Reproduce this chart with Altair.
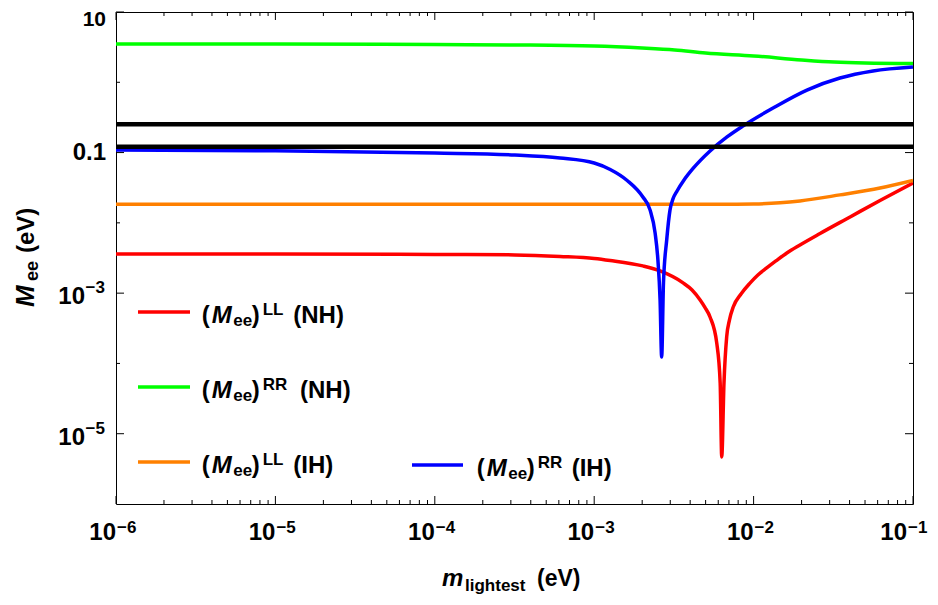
import altair as alt
import pandas as pd

W, H = 797, 492
FONT = "Liberation Sans"

# ---------------- data ----------------
red_x = [1e-6, 1e-5, 1e-4, 3.18e-4, 6.1e-4, 1e-3, 1.26e-3, 2.02e-3, 2.59e-3, 3.61e-3,
         4.11e-3, 4.62e-3, 4.95e-3, 5.33e-3, 5.87e-3, 6.17e-3, 6.31e-3, 6.52e-3, 6.78e-3,
         7.06e-3, 7.46e-3, 8.34e-3, 9.49e-3, 1.064e-2, 1.208e-2, 1.38e-2, 1.616e-2,
         1.954e-2, 2.612e-2, 4.03e-2, 6.21e-2, 1e-1]
red_y = [3.61e-3, 3.61e-3, 3.56e-3, 3.50e-3, 3.33e-3, 3.12e-3, 2.92e-3, 2.44e-3, 2.07e-3, 1.40e-3,
         1.11e-3, 8.0e-4, 6.27e-4, 4.58e-4, 1.96e-4, 5.3e-5, 4.68e-6, 5.3e-5, 2.4e-4,
         4.16e-4, 6.4e-4, 9.75e-4, 1.39e-3, 1.815e-3, 2.28e-3, 2.87e-3, 3.73e-3,
         4.85e-3, 7.06e-3, 1.214e-2, 2.084e-2, 3.7e-2]

green_x = [1e-6, 1e-5, 1e-4, 3.18e-4, 1e-3, 2.0e-3, 3.2e-3, 5.0e-3, 1e-2, 2e-2, 3.2e-2, 5e-2, 1e-1]
green_y = [3.51, 3.51, 3.45, 3.40, 3.28, 3.07, 2.88, 2.61, 2.37, 2.08, 1.94, 1.88, 1.85]

orange_x = [1e-6, 1e-4, 1e-3, 6.15e-3, 1e-2, 1.466e-2, 1.954e-2, 3.48e-2, 6.21e-2, 1e-1]
orange_y = [0.0184, 0.0184, 0.0184, 0.0184, 0.0186, 0.0193, 0.0205, 0.0250, 0.0313, 0.0401]

blue_x = [1e-6, 1e-5, 1e-4, 3.18e-4, 6.1e-4, 1e-3, 1.26e-3, 1.61e-3, 2.02e-3, 2.24e-3,
          2.41e-3, 2.51e-3, 2.59e-3, 2.65e-3, 2.72e-3, 2.85e-3, 2.99e-3, 3.12e-3, 3.31e-3,
          3.66e-3, 4.17e-3, 5.33e-3, 6.81e-3, 8.57e-3, 1.324e-2, 2.16e-2, 3.48e-2, 5.61e-2, 1e-1]
blue_y = [0.109, 0.106, 0.0986, 0.0925, 0.0838, 0.0711, 0.0575, 0.0401, 0.0233, 0.0153,
          7.2e-3, 2.97e-3, 8.0e-4, 1.23e-4, 1.40e-3, 5.7e-3, 0.0153, 0.0219, 0.0284,
          0.0407, 0.0594, 0.1054, 0.167, 0.2388, 0.4305, 0.776, 1.15, 1.45, 1.65]

black_levels = [0.253, 0.121]

x_major = [1e-6, 1e-5, 1e-4, 1e-3, 1e-2, 1e-1]
x_exp_labels = ["\u22126", "\u22125", "\u22124", "\u22123", "\u22122", "\u22121"]
x_minor = [k * 10.0 ** e for e in range(-6, -1) for k in range(2, 10)]

y_major = [10, 0.1, 1e-3, 1e-5]
y_minor = [1, 0.01, 1e-4]
y_plain_vals = [0.1]
y_plain_labels = ["0.1"]
y_top_val = [10]
y_top_label = ["10"]
y_exp_vals = [1e-3, 1e-5]
y_exp_labels = ["\u22123", "\u22125"]

legend_sup = ["LL", "RR", "LL", "RR"]
legend_hier = ["(NH)", "(NH)", "(IH)", "(IH)"]
colors = ["#ff0000", "#00ff00", "#ff8000", "#0000ff"]

# ---------------- scales ----------------
xscale = alt.Scale(type="log", domain=[1e-6, 0.1], nice=False)
yscale = alt.Scale(type="log", domain=[1e-6, 10], nice=False)


def X(field="x"):
    return alt.X(f"{field}:Q", scale=xscale, axis=None)


def Y(field="y"):
    return alt.Y(f"{field}:Q", scale=yscale, axis=None)


one = pd.DataFrame({"a": [0]})


def txt(text, x, y, size, italic=False, align="left", baseline="alphabetic", angle=None):
    kw = dict(text=text, fontSize=size, font=FONT, fontWeight="bold",
              align=align, baseline=baseline, color="black")
    if italic:
        kw["fontStyle"] = "italic"
    if angle is not None:
        kw["angle"] = angle
    return alt.Chart(one).mark_text(**kw).encode(x=alt.value(x), y=alt.value(y))


layers = []

# curves
for xs, ys, c in [(red_x, red_y, colors[0]), (green_x, green_y, colors[1]),
                  (orange_x, orange_y, colors[2]), (blue_x, blue_y, colors[3])]:
    df = pd.DataFrame({"x": xs, "y": ys, "o": range(len(xs))})
    layers.append(alt.Chart(df).mark_line(color=c, strokeWidth=3.5, strokeJoin="bevel",
                                          interpolate="monotone", clip=True)
                  .encode(x=X(), y=Y(), order="o:Q"))

# black horizontal lines
layers.append(alt.Chart(pd.DataFrame({"y": black_levels}))
              .mark_rule(color="black", strokeWidth=4.5).encode(y=Y()))

# ticks
dxM = pd.DataFrame({"x": x_major})
dxm = pd.DataFrame({"x": x_minor})
for d, L in [(dxM, 8), (dxm, 4)]:
    layers.append(alt.Chart(d).mark_rule(color="black", strokeWidth=1)
                  .encode(x=X(), y=alt.value(H), y2=alt.value(H - L)))
    layers.append(alt.Chart(d).mark_rule(color="black", strokeWidth=1)
                  .encode(x=X(), y=alt.value(0), y2=alt.value(L)))
dyM = pd.DataFrame({"y": y_major})
dym = pd.DataFrame({"y": y_minor})
for d, L in [(dyM, 8), (dym, 4)]:
    layers.append(alt.Chart(d).mark_rule(color="black", strokeWidth=1)
                  .encode(y=Y(), x=alt.value(0), x2=alt.value(L)))
    layers.append(alt.Chart(d).mark_rule(color="black", strokeWidth=1)
                  .encode(y=Y(), x=alt.value(W), x2=alt.value(W - L)))

# x tick labels (the last one nudged left so it stays inside the page)
dxl = pd.DataFrame({"x": x_major, "base": ["10"] * len(x_major), "e": x_exp_labels})
for part, shift in [(dxl.iloc[:-1], 0), (dxl.iloc[-1:], -6)]:
    layers.append(alt.Chart(part).mark_text(font=FONT, fontWeight="bold", fontSize=24,
                                            align="right", baseline="alphabetic",
                                            dx=shift, color="black")
                  .encode(x=X(), y=alt.value(H + 36), text="base:N"))
    layers.append(alt.Chart(part).mark_text(font=FONT, fontWeight="bold", fontSize=17,
                                            align="left", baseline="alphabetic",
                                            dx=1 + shift, color="black")
                  .encode(x=X(), y=alt.value(H + 29), text="e:N"))

# y tick labels
layers.append(alt.Chart(pd.DataFrame({"y": y_plain_vals, "t": y_plain_labels}))
              .mark_text(font=FONT, fontWeight="bold", fontSize=24, align="right",
                         baseline="middle", color="black")
              .encode(y=Y(), x=alt.value(-10), text="t:N"))
layers.append(alt.Chart(pd.DataFrame({"y": y_top_val, "t": y_top_label}))
              .mark_text(font=FONT, fontWeight="bold", fontSize=21, align="right",
                         baseline="top", dy=-3, color="black")
              .encode(y=Y(), x=alt.value(-10), text="t:N"))
dyl = pd.DataFrame({"y": y_exp_vals, "base": ["10"] * len(y_exp_vals), "e": y_exp_labels})
layers.append(alt.Chart(dyl).mark_text(font=FONT, fontWeight="bold", fontSize=24,
                                       align="right", baseline="alphabetic", dy=11, color="black")
              .encode(y=Y(), x=alt.value(-31), text="base:N"))
layers.append(alt.Chart(dyl).mark_text(font=FONT, fontWeight="bold", fontSize=17,
                                       align="right", baseline="alphabetic", dy=0, color="black")
              .encode(y=Y(), x=alt.value(-11), text="e:N"))

# axis titles
layers += [
    txt("m", 326, 574, 24, italic=True),
    txt("lightest", 349, 579, 17),
    txt("(eV)", 421, 574, 23),
    txt("M", -82, 295, 26, italic=True, angle=270),
    txt("ee", -78, 269, 18, angle=270),
    txt("(eV)", -82, 241, 24, angle=270),
]

# in-plot legend (line samples + composed labels)
legend_rows = [
    # line x0, x1, line y, text x0, baseline, (NH)/(IH) offset
    (22, 74, 300, 85.7, 311.3, 177.3),
    (22, 74, 375, 85.7, 386.0, 184.0),
    (22, 74, 450, 85.7, 460.7, 177.3),
    (296, 347, 453, 360.7, 464.0, 455.7),
]
for i, (lx0, lx1, ly, tx, bl, hx) in enumerate(legend_rows):
    layers.append(alt.Chart(one).mark_rule(color=colors[i], strokeWidth=3.5)
                  .encode(x=alt.value(lx0), x2=alt.value(lx1), y=alt.value(ly)))
    layers += [
        txt("(", tx, bl, 24),
        txt("M", tx + 10, bl, 24, italic=True),
        txt("ee", tx + 31.6, bl + 3, 17),
        txt(")", tx + 50, bl, 24),
        txt(legend_sup[i], tx + 61, bl - 8, 17),
        txt(legend_hier[i], hx, bl, 24),
    ]

chart = (alt.layer(*layers)
         .properties(width=W, height=H,
                     padding={"left": 108, "top": 4, "right": 17, "bottom": 92},
                     autosize=alt.AutoSizeParams(type="none"))
         .configure_view(stroke="black", strokeWidth=1))

chart.save("out.html", embed_options={"renderer": "svg", "actions": False})
